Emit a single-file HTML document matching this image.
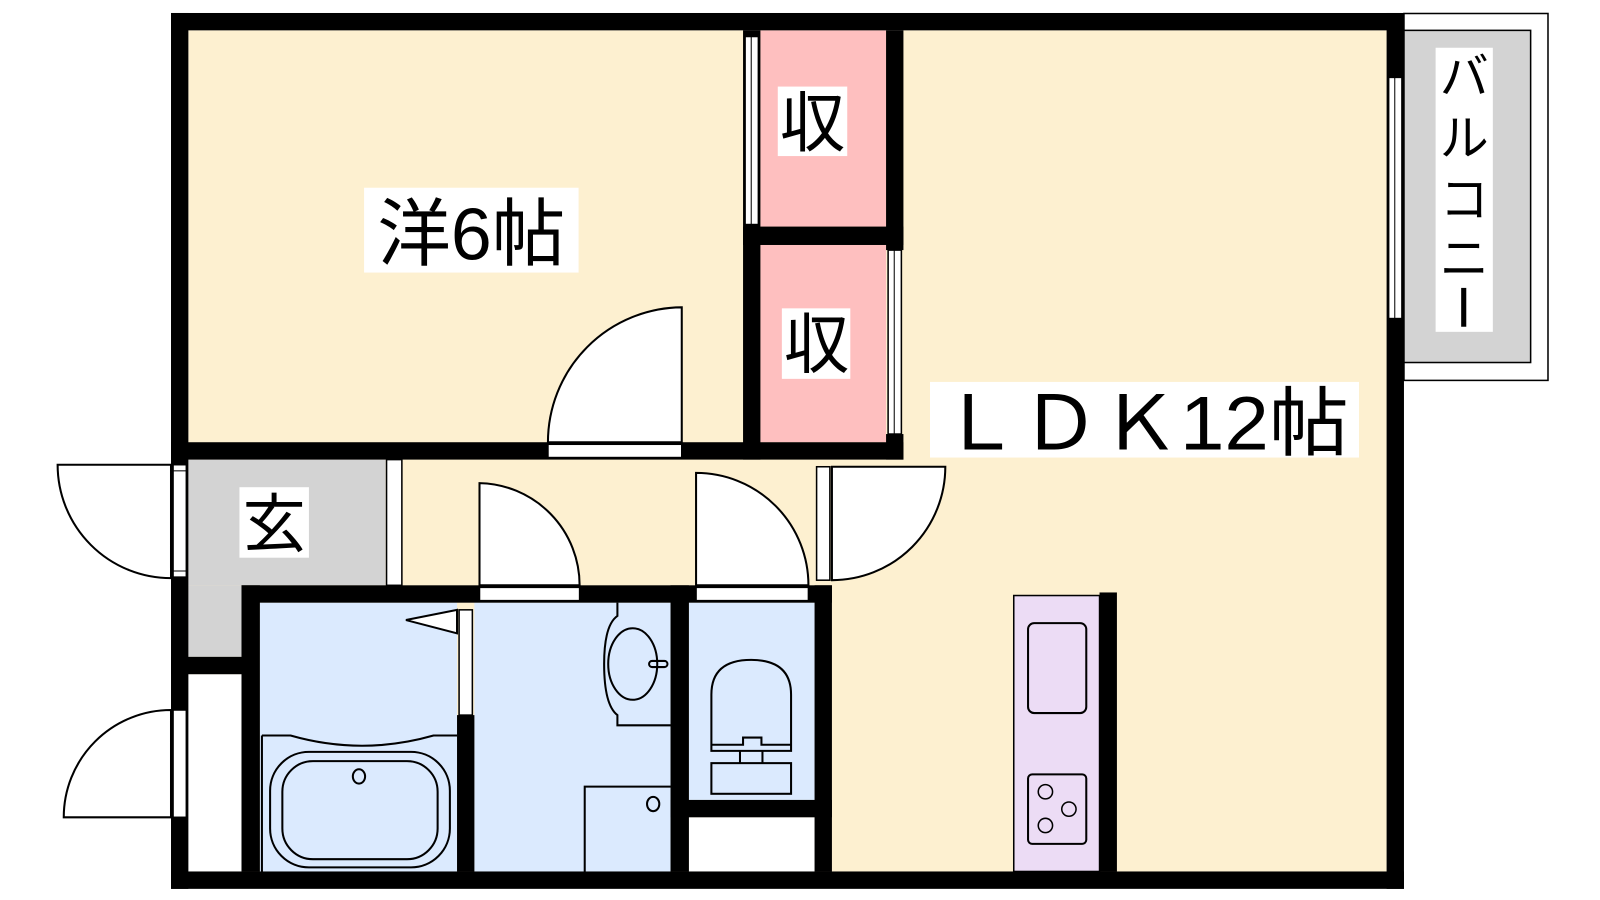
<!DOCTYPE html>
<html><head><meta charset="utf-8"><style>
html,body{margin:0;padding:0;background:#fff;}
svg{display:block;}
text{font-family:"Liberation Sans","Noto Sans CJK JP",sans-serif;fill:#000;}
</style></head><body>
<svg width="1600" height="900" viewBox="0 0 1600 900" xmlns="http://www.w3.org/2000/svg">
<g transform="matrix(1.0215 0 0 1.022 -0.6 -0.3)">
<!-- floors -->
<rect x="185" y="30" width="1173" height="823" fill="#fdf0d0"/>
<rect x="745" y="30" width="123" height="192" fill="#febfbf"/>
<rect x="745" y="240" width="123" height="193" fill="#febfbf"/>
<rect x="185" y="450" width="193" height="123" fill="#d3d3d3"/>
<rect x="185" y="573" width="52" height="70" fill="#d3d3d3"/>
<rect x="185" y="660" width="52" height="193" fill="#fff"/>
<rect x="255" y="590" width="193" height="263" fill="#dbeafe"/>
<rect x="465" y="590" width="192" height="263" fill="#dbeafe"/>
<rect x="675" y="590" width="123" height="193" fill="#dbeafe"/>
<rect x="675" y="800" width="123" height="53" fill="#fff"/>
<!-- balcony -->
<rect x="1375" y="13.5" width="141" height="359" fill="#fff" stroke="#000" stroke-width="1.5"/>
<rect x="1375" y="30" width="124" height="325" fill="#d3d3d3" stroke="#000" stroke-width="1.5"/>
<rect x="1406" y="47" width="56" height="278" fill="#fff"/>
<text x="1434" y="92" font-size="48" text-anchor="middle">バ</text>
<text x="1434" y="152" font-size="48" text-anchor="middle">ル</text>
<text x="1434" y="212" font-size="48" text-anchor="middle">コ</text>
<text x="1434" y="270" font-size="48" text-anchor="middle">ニ</text>
<rect x="1431" y="282" width="5" height="38" fill="#000"/>
<!-- walls -->
<g fill="#000">
<rect x="168" y="13" width="1207" height="17"/>
<rect x="168" y="853" width="1207" height="17"/>
<rect x="168" y="13" width="17" height="857"/>
<rect x="1358" y="13" width="17" height="857"/>
<rect x="168" y="433" width="717" height="17"/>
<rect x="728" y="30" width="17" height="420"/>
<rect x="728" y="222" width="157" height="18"/>
<rect x="868" y="30" width="17" height="215"/>
<rect x="868" y="425" width="17" height="25"/>
<rect x="168" y="643" width="69" height="17"/>
<rect x="237" y="573" width="578" height="17"/>
<rect x="237" y="573" width="18" height="280"/>
<rect x="448" y="700" width="17" height="153"/>
<rect x="657" y="573" width="18" height="280"/>
<rect x="657" y="783" width="158" height="17"/>
<rect x="798" y="573" width="17" height="280"/>
<rect x="1077" y="580" width="17" height="273"/>
</g>
<!-- windows / openings -->
<g fill="#fff" stroke="#000" stroke-width="1.5">
<rect x="1360" y="76" width="13" height="236"/>
<rect x="730" y="36" width="13" height="184"/>
<rect x="870" y="245" width="13" height="180"/>
<rect x="537" y="435" width="131" height="13"/>
<rect x="170" y="455" width="13" height="110"/>
<rect x="170" y="695" width="13" height="105"/>
<rect x="379" y="450" width="15" height="123"/>
<rect x="800" y="457" width="13" height="111"/>
<rect x="470" y="575" width="98" height="13"/>
<rect x="682" y="575" width="110" height="13"/>
<rect x="450" y="597" width="13" height="103"/>
</g>
<g stroke="#000" stroke-width="1" fill="none">
<line x1="1366" y1="76" x2="1366" y2="312"/><line x1="736" y1="36" x2="736" y2="220"/><line x1="876" y1="245" x2="876" y2="425"/>
<line x1="170" y1="461" x2="183" y2="461"/><line x1="170" y1="559" x2="183" y2="559"/>
</g>
<!-- doors -->
<g fill="#fff" stroke="#000" stroke-width="2">
<path d="M668 433 L668 301 A132 132 0 0 0 537 433 Z"/>
<path d="M168 455 L57 455 A111 111 0 0 0 168 566 Z"/>
<path d="M168 800 L63 800 A105 105 0 0 1 168 695 Z"/>
<path d="M815 457 L926 457 A111 111 0 0 1 815 568 Z"/>
<path d="M470 573 L470 473 A100 100 0 0 1 568 573 Z"/>
<path d="M682 573 L682 463 A110 110 0 0 1 792 573 Z"/>
</g>
<!-- bath fixtures -->
<g fill="none" stroke="#000" stroke-width="2">
<polygon points="448,597 398,607 448,620" fill="#fff"/>
<path d="M257 720 L285 720 Q355 740 425 720 L448 720"/>
<line x1="257" y1="720" x2="257" y2="853"/>
<rect x="265" y="736" width="176" height="113" rx="38"/>
<rect x="277" y="745" width="152" height="96" rx="30"/>
<ellipse cx="352" cy="760" rx="6" ry="7"/>
<path d="M605 590 L605 603 Q592 612 592 650 Q592 690 605 700 L605 710 L657 710"/>
<ellipse cx="620" cy="650" rx="24" ry="35"/>
<rect x="636" y="647" width="18" height="6" rx="3"/>
<path d="M573 853 L573 770 L657 770"/>
<ellipse cx="640" cy="787" rx="6" ry="7"/>
<path d="M697 735 L697 680 Q697 646 736 646 Q775 646 775 680 L775 735 Z"/>
<path d="M697 729 L728 729 L728 722 L746 722 L746 729 L775 729"/>
<line x1="725" y1="735" x2="725" y2="747"/><line x1="747" y1="735" x2="747" y2="747"/>
<rect x="697" y="747" width="78" height="30"/>
</g>
<!-- kitchen -->
<rect x="993" y="583" width="84" height="270" fill="#ecdcf5" stroke="#000" stroke-width="1.5"/>
<rect x="1007" y="610" width="57" height="88" rx="6" fill="none" stroke="#000" stroke-width="2"/>
<rect x="1007" y="758" width="57" height="68" rx="4" fill="none" stroke="#000" stroke-width="2"/>
<g fill="none" stroke="#000" stroke-width="1.5">
<circle cx="1024" cy="775" r="7"/><circle cx="1047" cy="792" r="7"/><circle cx="1024" cy="808" r="7"/>
</g>
<!-- labels -->
<rect x="357" y="184" width="210" height="83" fill="#fff"/>
<text x="462" y="254" font-size="72" text-anchor="middle">洋6帖</text>
<rect x="762" y="85" width="68" height="68" fill="#fff"/>
<text x="796" y="143" font-size="64" text-anchor="middle">収</text>
<rect x="766" y="302" width="67" height="69" fill="#fff"/>
<text x="800" y="360" font-size="64" text-anchor="middle">収</text>
<rect x="911" y="374" width="420" height="74" fill="#fff"/>
<text x="1121" y="440" font-size="74" text-anchor="middle" textLength="400" lengthAdjust="spacingAndGlyphs">ＬＤＫ12帖</text>
<rect x="235" y="477" width="68" height="69" fill="#fff"/>
<text x="269" y="535" font-size="62" text-anchor="middle">玄</text>
</g>
</svg>
</body></html>
